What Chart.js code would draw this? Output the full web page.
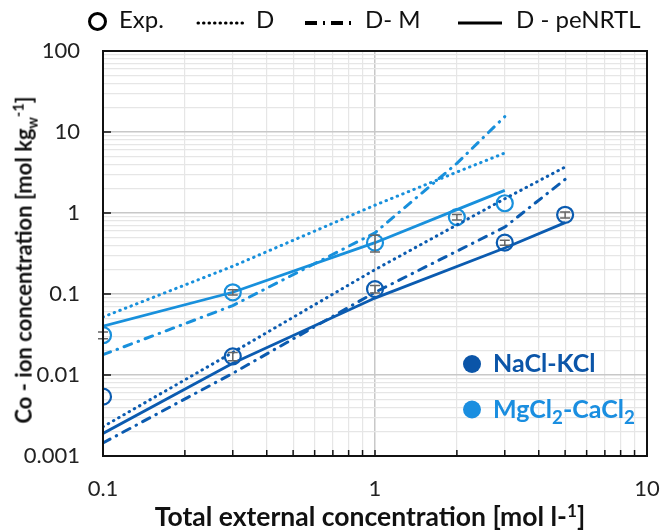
<!DOCTYPE html>
<html lang="en">
  <head>
    <meta charset="utf-8" />
    <title>Co-ion concentration</title>
    <script src="https://cdn.jsdelivr.net/npm/chart.js@4.4.1/dist/chart.umd.min.js"></script>
    <style>
      body { margin: 0; background: #fff; font-family: Lato, "Open Sans", sans-serif; }
      .wrap { position: relative; width: 662px; height: 531px; }
      .top-legend { position: absolute; left: 0; top: 4px; height: 30px; width: 662px; font-size: 24px; color: #111; }
      .top-legend span, .top-legend svg, .top-legend i { position: absolute; top: 0; }
      .ring { display: block; width: 13px; height: 13px; border: 3px solid #000; border-radius: 50%; top: 8px !important; }
      .ytitle { position: absolute; left: 25px; top: 260px; transform: translate(-50%, -50%) rotate(-90deg);
        white-space: nowrap; font-weight: bold; font-size: 22px; color: #111; }
      .xtitle { position: absolute; left: 370px; top: 516px; transform: translate(-50%, -50%);
        white-space: nowrap; font-weight: bold; font-size: 26.5px; color: #111; }
      .sys { position: absolute; left: 463px; font-weight: bold; font-size: 25px; white-space: nowrap; transform: translateY(-50%); }
      .sys b { display: inline-block; width: 18px; height: 18px; border-radius: 50%; margin-right: 12px; vertical-align: -1px; }
      .sys sub { font-size: 0.75em; }
      sub, sup { font-size: 0.65em; }
    </style>
  </head>
  <body>
    <div class="wrap">
      <canvas id="chart"></canvas>
      <div class="top-legend">
        <i class="ring" style="left: 88px"></i>
        <span style="left: 119px">Exp.</span>
        <svg style="left: 196px; top: 2px" width="52" height="26"><line x1="2" y1="17" x2="50" y2="17" stroke="#000" stroke-width="3" stroke-dasharray="0.5 5" stroke-linecap="round" /></svg>
        <span style="left: 256px">D</span>
        <svg style="left: 303px; top: 2px" width="56" height="26"><line x1="2" y1="17" x2="54" y2="17" stroke="#000" stroke-width="4" stroke-dasharray="12 6 2 6" /></svg>
        <span style="left: 365px">D- M</span>
        <svg style="left: 456px; top: 2px" width="48" height="26"><line x1="2" y1="17" x2="46" y2="17" stroke="#000" stroke-width="3" /></svg>
        <span style="left: 516px">D - peNRTL</span>
      </div>
      <div class="ytitle">Co - ion concentration [mol kg<sub>w</sub><sup>-1</sup>]</div>
      <div class="xtitle">Total external concentration [mol l-<sup>1</sup>]</div>
      <div class="sys" style="top: 362px; color: #0b55a8"><b style="background: #0b55a8"></b>NaCl-KCl</div>
      <div class="sys" style="top: 410px; color: #1a8ee0"><b style="background: #1a8ee0"></b>MgCl<sub>2</sub>-CaCl<sub>2</sub></div>
    </div>
    <script>
      const darkColor = "#0b5bb0";
      const lightColor = "#1890dc";

      // NaCl-KCl
      const xNaCl = [0.1, 0.3, 1, 3, 5];
      const expNaCl = [0.0054, 0.017, 0.115, 0.43, 0.95];
      const errNaCl = [0, 0.002, 0.012, 0.03, 0.08];
      const dNaCl = [0.0023, 0.019, 0.2, 1.5, 3.7];
      const dmNaCl = [0.00145, 0.0105, 0.105, 0.67, 2.6];
      const penrtlNaCl = [0.0019, 0.014, 0.089, 0.37, 0.76];

      // MgCl2-CaCl2
      const xMgCl = [0.1, 0.3, 1, 2, 3];
      const expMgCl = [0.031, 0.105, 0.43, 0.89, 1.32];
      const errMgCl = [0.003, 0.008, 0.1, 0.07, 0];
      const dMgCl = [0.052, 0.22, 1.25, 3.2, 5.5];
      const dmMgCl = [0.0178, 0.072, 0.57, 4.1, 15.5];
      const penrtlMgCl = [0.04, 0.105, 0.43, 1.1, 1.9];

      const xTickLabels = ["0.1", "1", "10"];
      const yTickLabels = ["0.001", "0.01", "0.1", "1", "10", "100"];

      const pts = (xs, ys) => xs.map((x, i) => ({ x: x, y: ys[i] }));

      // all 1..9 x 10^n values between min and max, for the grid
      function logTicks(min, max) {
        const out = [];
        for (let e = Math.round(Math.log10(min)); e <= Math.round(Math.log10(max)); e++) {
          for (let d = 1; d <= 9; d++) {
            const v = parseFloat((d * Math.pow(10, e)).toPrecision(3));
            if (v >= min && v <= max) out.push(v);
          }
        }
        return out.map((v) => ({ value: v }));
      }
      const isMajor = (v) => Math.abs(Math.log10(v) - Math.round(Math.log10(v))) < 1e-9;

      const dotted = { borderDash: [0.5, 5.5], borderCapStyle: "round", borderWidth: 3 };
      const dashDot = { borderDash: [8, 7, 0.5, 7], borderCapStyle: "round", borderWidth: 3 };
      const solid = { borderWidth: 2.8 };

      function line(data, color, style) {
        return Object.assign({ type: "line", data: data, borderColor: color, pointRadius: 0, fill: false, tension: 0 }, style);
      }
      function exp(data, color, err) {
        return { type: "scatter", data: data, err: err, borderColor: color, backgroundColor: "transparent",
          pointRadius: 8, pointBorderWidth: 2.2, pointHoverRadius: 8 };
      }

      // error bars, plot frame and the small inner ticks
      const extras = {
        id: "extras",
        afterDatasetsDraw(chart) {
          const c = chart.ctx, xs = chart.scales.x, ys = chart.scales.y, a = chart.chartArea;
          c.save();
          c.strokeStyle = "#666";
          c.lineWidth = 1.5;
          chart.data.datasets.forEach((ds) => {
            if (!ds.err) return;
            ds.data.forEach((p, i) => {
              const e = ds.err[i];
              if (!e) return;
              const px = xs.getPixelForValue(p.x);
              const y1 = ys.getPixelForValue(p.y + e), y2 = ys.getPixelForValue(p.y - e);
              c.beginPath();
              c.moveTo(px, y1); c.lineTo(px, y2);
              c.moveTo(px - 5, y1); c.lineTo(px + 5, y1);
              c.moveTo(px - 5, y2); c.lineTo(px + 5, y2);
              c.stroke();
            });
          });
          c.strokeStyle = "#111";
          c.lineWidth = 1.5;
          c.beginPath();
          xs.ticks.forEach((t) => {
            const px = xs.getPixelForValue(t.value);
            c.moveTo(px, a.bottom); c.lineTo(px, a.bottom - 6);
          });
          ys.ticks.forEach((t) => {
            if (!isMajor(t.value)) return;
            const py = ys.getPixelForValue(t.value);
            c.moveTo(a.left, py); c.lineTo(a.left + 8, py);
          });
          c.stroke();
          c.lineWidth = 2;
          c.strokeRect(a.left, a.top, a.right - a.left, a.bottom - a.top);
          c.restore();
        },
      };

      new Chart(document.getElementById("chart"), {
        data: {
          datasets: [
            line(pts(xMgCl, dMgCl), lightColor, dotted),
            line(pts(xMgCl, dmMgCl), lightColor, dashDot),
            line(pts(xMgCl, penrtlMgCl), lightColor, solid),
            line(pts(xNaCl, dNaCl), darkColor, dotted),
            line(pts(xNaCl, dmNaCl), darkColor, dashDot),
            line(pts(xNaCl, penrtlNaCl), darkColor, solid),
            exp(pts(xMgCl, expMgCl), lightColor, errMgCl),
            exp(pts(xNaCl, expNaCl), darkColor, errNaCl),
          ],
        },
        options: {
          responsive: true,
          maintainAspectRatio: false,
          animation: false,
          layout: { padding: { top: 51, right: 15, left: 0, bottom: 0 } },
          plugins: { legend: { display: false }, tooltip: { enabled: false } },
          scales: {
            x: {
              type: "logarithmic",
              min: 0.1,
              max: 10,
              afterBuildTicks: (s) => { s.ticks = logTicks(0.1, 10); },
              afterFit: (s) => { s.height = 75; s.paddingLeft = 0; s.paddingRight = 0; },
              ticks: {
                autoSkip: false,
                maxRotation: 0,
                padding: 20,
                color: "#222",
                font: { family: "Lato", size: 22 },
                callback: (v) => (isMajor(v) ? xTickLabels[Math.round(Math.log10(v)) + 1] : ""),
              },
              grid: {
                drawTicks: false,
                color: (ctx) => (ctx.tick && isMajor(ctx.tick.value) ? "#c8c8c8" : "#e6e6e6"),
                lineWidth: (ctx) => (ctx.tick && isMajor(ctx.tick.value) ? 1.5 : 1.2),
              },
              border: { color: "#111", width: 2 },
            },
            y: {
              type: "logarithmic",
              min: 0.001,
              max: 100,
              afterBuildTicks: (s) => { s.ticks = logTicks(0.001, 100); },
              afterFit: (s) => { s.width = 103; s.paddingTop = 0; s.paddingBottom = 0; },
              ticks: {
                autoSkip: false,
                padding: 23,
                color: "#222",
                font: { family: "Lato", size: 22 },
                callback: (v) => (isMajor(v) ? yTickLabels[Math.round(Math.log10(v)) + 3] : ""),
              },
              grid: {
                drawTicks: false,
                color: (ctx) => (ctx.tick && isMajor(ctx.tick.value) ? "#c8c8c8" : "#e6e6e6"),
                lineWidth: (ctx) => (ctx.tick && isMajor(ctx.tick.value) ? 1.5 : 1.2),
              },
              border: { color: "#111", width: 2 },
            },
          },
        },
        plugins: [extras],
      });
    </script>
  </body>
</html>
